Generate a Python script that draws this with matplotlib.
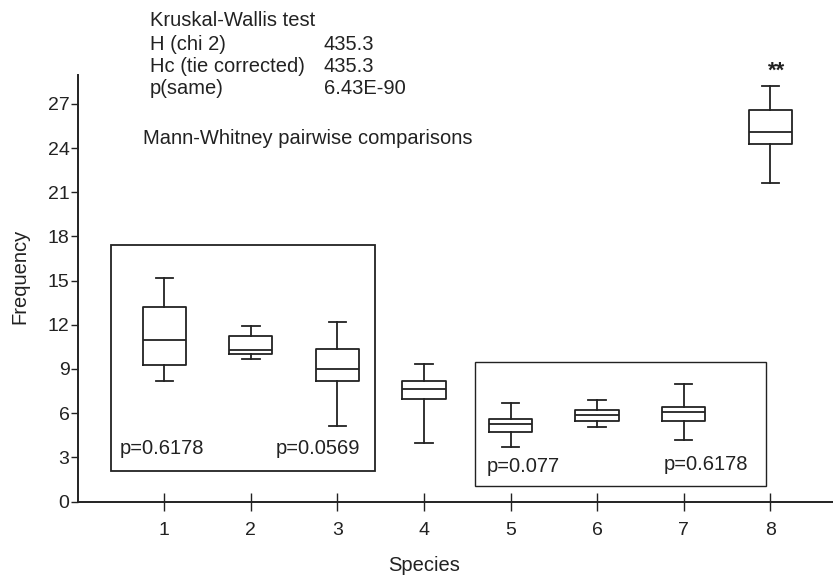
import matplotlib
matplotlib.use("Agg")
import matplotlib.pyplot as plt
from matplotlib.patches import Rectangle

plt.rcParams['font.family'] = ['Liberation Sans', 'DejaVu Sans']

species = [1, 2, 3, 4, 5, 6, 7, 8]
whisker_low = [8.2, 9.67, 5.13, 3.99, 3.72, 5.04, 4.20, 21.6]
q1 = [9.29, 9.99, 8.18, 6.94, 4.74, 5.49, 5.47, 24.25]
median = [10.94, 10.29, 9.02, 7.66, 5.24, 5.85, 6.10, 25.06]
q3 = [13.22, 11.24, 10.35, 8.16, 5.62, 6.21, 6.44, 26.58]
whisker_high = [15.15, 11.89, 12.19, 9.31, 6.67, 6.87, 7.98, 28.21]
y_ticks = [0, 3, 6, 9, 12, 15, 18, 21, 24, 27]

ink = '#222222'
fs = 14.5

fig = plt.figure(figsize=(8.33, 5.77), dpi=100)
ax = fig.add_axes([0.0933, 0.1308, 0.9067, 0.739])

stats = []
for i, s in enumerate(species):
    stats.append(dict(label=str(s), whislo=whisker_low[i], q1=q1[i], med=median[i],
                      q3=q3[i], whishi=whisker_high[i], fliers=[]))

line = dict(color=ink, linewidth=1.3)
ax.bxp(stats, positions=species, widths=0.5, showfliers=False,
       boxprops=line, whiskerprops=line, capprops=line,
       medianprops=line, capwidths=0.2)

ax.set_xlim(0.0, 8.725)
ax.set_ylim(0, 28.95)
ax.set_yticks(y_ticks)
ax.set_xticks(species)
ax.set_xticklabels([str(s) for s in species])

for side in ['top', 'right']:
    ax.spines[side].set_visible(False)
for side in ['left', 'bottom']:
    ax.spines[side].set_color(ink)
    ax.spines[side].set_linewidth(1.4)

ax.tick_params(axis='y', direction='out', length=5, width=1.0, colors=ink,
               labelsize=14, pad=1)
ax.tick_params(axis='x', direction='inout', length=13, width=1.0, colors=ink,
               labelsize=14, pad=8)

ax.set_xlabel('Species', fontsize=fs, color=ink)
ax.set_ylabel('Frequency', fontsize=fs, color=ink)
ax.xaxis.set_label_coords(0.4585, -0.128)
ax.yaxis.set_label_coords(-0.0644, 0.5276)

# Groups of species compared pairwise
ax.add_patch(Rectangle((0.388, 2.09), 3.05, 15.32, fill=False,
                       edgecolor=ink, linewidth=1.3))
ax.add_patch(Rectangle((4.59, 1.07), 3.36, 8.42, fill=False,
                       edgecolor=ink, linewidth=1.0))

txt = dict(fontsize=fs, color=ink, va='center')
ax.text(0.48, 3.6, 'p=0.6178', **txt)
ax.text(2.29, 3.6, 'p=0.0569', **txt)
ax.text(4.73, 2.4, 'p=0.077', **txt)
ax.text(6.77, 2.5, 'p=0.6178', **txt)
ax.text(8.07, 29.2, '**', fontsize=16, color=ink, ha='center', va='center',
        fontweight='bold')

# Kruskal-Wallis summary
ftxt = dict(fontsize=fs, color=ink, va='center', transform=fig.transFigure)
rows = [('Kruskal-Wallis test', ''), ('H (chi 2)', '435.3'),
        ('Hc (tie corrected)', '435.3'), ('p(same)', '6.43E-90')]
ys = [20, 44, 67, 88]
for (lab, val), yp in zip(rows, ys):
    fig.text(150 / 833, 1 - yp / 577, lab, **ftxt)
    if val:
        fig.text(324 / 833, 1 - yp / 577, val, **ftxt)
fig.text(143 / 833, 1 - 138 / 577, 'Mann-Whitney pairwise comparisons', **ftxt)

fig.savefig('out.png', dpi=100)
